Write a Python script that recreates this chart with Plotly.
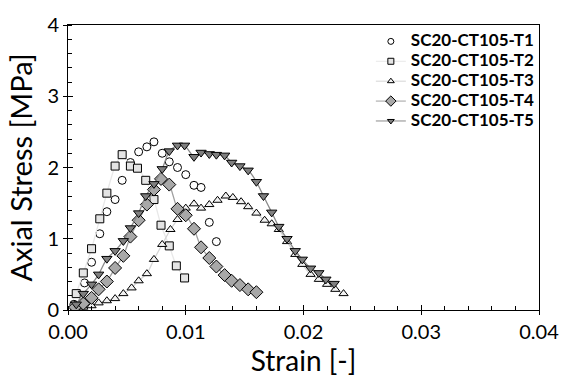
import plotly.graph_objects as go

# ---- data ----
t1_strain = [0.0005, 0.0014, 0.0020, 0.0027, 0.0033, 0.0040, 0.0046, 0.0053, 0.0060, 0.0067,
             0.0073, 0.0080, 0.0086, 0.0093, 0.0100, 0.0107, 0.0113, 0.0120, 0.0126]
t1_stress = [0.08, 0.38, 0.67, 1.07, 1.38, 1.55, 1.82, 2.07, 2.22, 2.29,
             2.36, 2.20, 2.08, 2.00, 1.90, 1.75, 1.72, 1.23, 0.96]

t2_strain = [0.0007, 0.0013, 0.0020, 0.0027, 0.0033, 0.0040, 0.0046, 0.0053, 0.0059, 0.0066,
             0.0073, 0.0079, 0.0086, 0.0092, 0.0099]
t2_stress = [0.23, 0.52, 0.86, 1.28, 1.64, 2.02, 2.18, 2.02, 1.99, 1.82,
             1.55, 1.19, 0.90, 0.62, 0.45]

t3_strain = [0.0006, 0.0013, 0.0020, 0.0026, 0.0033, 0.0040, 0.0047, 0.0054, 0.0060, 0.0067,
             0.0073, 0.0080, 0.0087, 0.0093, 0.0100, 0.0107, 0.0113, 0.0120, 0.0127, 0.0134,
             0.0140, 0.0147, 0.0153, 0.0160, 0.0167, 0.0173, 0.0179, 0.0186, 0.0193, 0.0199,
             0.0206, 0.0213, 0.0220, 0.0227, 0.0234]
t3_stress = [0.03, 0.04, 0.06, 0.10, 0.13, 0.16, 0.23, 0.31, 0.41, 0.51,
             0.71, 0.92, 1.13, 1.27, 1.43, 1.49, 1.43, 1.48, 1.54, 1.60,
             1.58, 1.52, 1.45, 1.36, 1.26, 1.21, 1.13, 0.96, 0.78, 0.64,
             0.50, 0.43, 0.36, 0.29, 0.23]

t4_strain = [0.0006, 0.0013, 0.0020, 0.0026, 0.0033, 0.0040, 0.0047, 0.0053, 0.0060, 0.0067,
             0.0073, 0.0079, 0.0086, 0.0093, 0.0100, 0.0107, 0.0113, 0.0120, 0.0126, 0.0133,
             0.0139, 0.0146, 0.0153, 0.0160]
t4_stress = [0.04, 0.09, 0.17, 0.29, 0.40, 0.59, 0.76, 1.03, 1.26, 1.48,
             1.69, 1.84, 1.76, 1.42, 1.33, 1.14, 0.88, 0.73, 0.61, 0.49,
             0.41, 0.35, 0.29, 0.25]

t5_strain = [0.0007, 0.0013, 0.0020, 0.0026, 0.0033, 0.0040, 0.0047, 0.0053, 0.0060, 0.0066,
             0.0073, 0.0080, 0.0086, 0.0093, 0.0099, 0.0107, 0.0113, 0.0120, 0.0126, 0.0133,
             0.0139, 0.0146, 0.0153, 0.0160, 0.0166, 0.0173, 0.0179, 0.0186, 0.0193, 0.0199,
             0.0206, 0.0213, 0.0219, 0.0226]
t5_stress = [0.08, 0.23, 0.36, 0.50, 0.72, 0.83, 0.97, 1.15, 1.36, 1.60,
             1.77, 1.98, 2.23, 2.31, 2.31, 2.15, 2.21, 2.19, 2.18, 2.17,
             2.07, 2.02, 1.96, 1.80, 1.60, 1.37, 1.17, 1.00, 0.83, 0.71,
             0.585, 0.52, 0.43, 0.37]

names = ["SC20-CT105-T1", "SC20-CT105-T2", "SC20-CT105-T3", "SC20-CT105-T4", "SC20-CT105-T5"]

FONT = "Lato, 'Open Sans', sans-serif"

series = [
    (t1_strain, t1_stress, "circle", "white", None, 8),
    (t2_strain, t2_stress, "square", "#e4e4e4", "#e8e8e8", 8),
    (t3_strain, t3_stress, "triangle-up", "#f2f2f2", "#d4d4d4", 8),
    (t4_strain, t4_stress, "diamond", "#a8a8a8", "#a0a0a0", 10),
    (t5_strain, t5_stress, "triangle-down", "#7f7f7f", "#8a8a8a", 9),
]

fig = go.Figure()
for (xs, ys, sym, fill, lc, sz), nm in zip(series, names):
    fig.add_trace(go.Scatter(
        x=xs, y=ys, name=nm, showlegend=False,
        mode="markers" if lc is None else "lines+markers",
        line=dict(color=lc or "white", width=1.3, shape="spline", smoothing=0.6),
        marker=dict(symbol=sym, size=sz, color=fill, line=dict(color="black", width=1)),
    ))

# legend-only entries with the small symbols of the reference legend
for (xs, ys, sym, fill, lc, sz), nm in zip(series, names):
    fig.add_trace(go.Scatter(
        x=[None], y=[None], showlegend=True,
        name="<span style='font-size:17px'>%s</span>" % nm,
        mode="markers" if lc is None else "lines+markers",
        line=dict(color=lc or "white", width=1),
        marker=dict(symbol=sym, size=6 if sym != "diamond" else 8, color=fill,
                    line=dict(color="black", width=1)),
    ))

# overlay axes to draw the inner half of the major ticks
fig.add_trace(go.Scatter(x=[None], y=[None], xaxis="x2", yaxis="y2", showlegend=False))

TICKFONT = dict(family=FONT, size=20, color="black")
axis_common = dict(showline=True, linecolor="black", linewidth=1, showgrid=False,
                   zeroline=False, ticks="outside", ticklen=4, tickcolor="black",
                   tickfont=TICKFONT, ticklabeloverflow="allow")

fig.update_layout(
    width=571, height=384,
    margin=dict(l=68, r=19, t=14, b=74),
    paper_bgcolor="white", plot_bgcolor="white",
    font=dict(family=FONT, color="black"),
    xaxis=dict(range=[0, 0.04], dtick=0.01, tickformat=".2f", mirror=True,
               minor=dict(ticks="inside", dtick=0.002, ticklen=4, tickcolor="black"),
               title=dict(text="Strain [-]", font=dict(family=FONT, size=28), standoff=6),
               **axis_common),
    yaxis=dict(range=[0, 4], dtick=1, mirror=True,
               minor=dict(ticks="inside", dtick=0.2, ticklen=4, tickcolor="black"),
               title=dict(text="Axial Stress [MPa]", font=dict(family=FONT, size=29), standoff=6),
               **axis_common),
    xaxis2=dict(overlaying="x", matches="x", range=[0, 0.04], dtick=0.01, showticklabels=False,
                ticks="inside", ticklen=5, tickcolor="black", showgrid=False, zeroline=False,
                showline=False, side="bottom", anchor="y2"),
    yaxis2=dict(overlaying="y", matches="y", range=[0, 4], dtick=1, showticklabels=False,
                ticks="inside", ticklen=5, tickcolor="black", showgrid=False, zeroline=False,
                showline=False, side="left", anchor="x2"),
    legend=dict(x=0.643, y=0.995, xanchor="left", yanchor="top",
                bgcolor="rgba(0,0,0,0)", font=dict(family=FONT, size=13, color="black", weight="bold"),
                tracegroupgap=0),
    showlegend=True,
)

fig.write_html("out.html")
